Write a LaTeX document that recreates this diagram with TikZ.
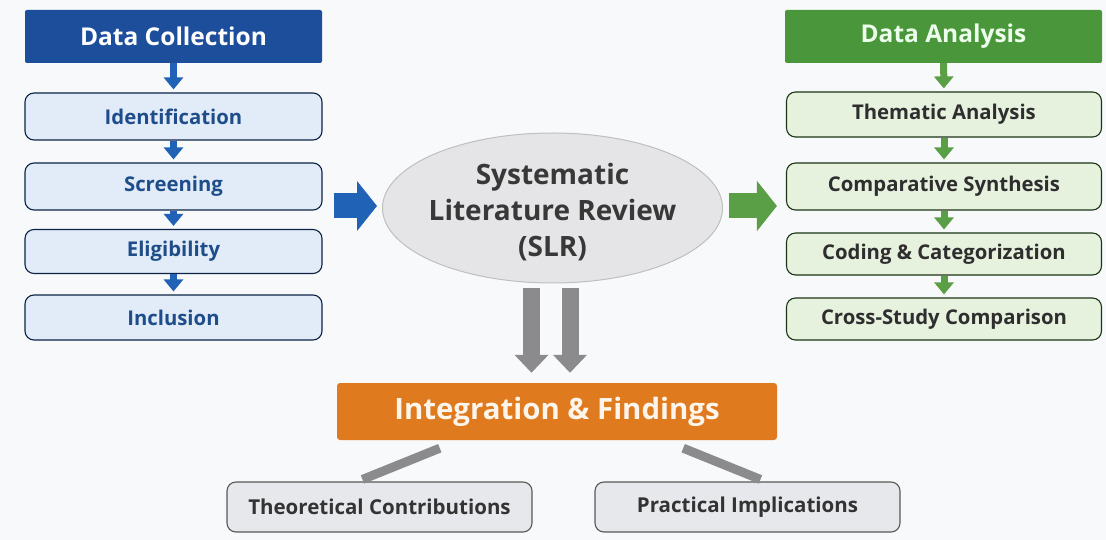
\documentclass[tikz,border=0pt]{standalone}
\usepackage{fontspec}
\setmainfont{Open Sans}
\usetikzlibrary{arrows.meta,shapes.geometric}
\definecolor{dcblue}{HTML}{1C4E9C}
\definecolor{dcarrow}{HTML}{1F62B6}
\definecolor{dcboxfill}{HTML}{E1ECF8}
\definecolor{dctext}{HTML}{1F4D8A}
\definecolor{dagreen}{HTML}{4A963A}
\definecolor{daarrow}{HTML}{5A9E45}
\definecolor{daboxfill}{HTML}{E6F1DE}
\definecolor{ifgorange}{HTML}{E07A1E}
\definecolor{slrgray}{HTML}{E5E5E7}
\definecolor{arrgray}{HTML}{8B8B8D}
\definecolor{outboxfill}{HTML}{E7E8EC}
\definecolor{bgcol}{HTML}{F8F9FB}
\begin{document}
\begin{tikzpicture}
[
x=1pt,y=-1pt,
hdr/.style={rectangle,rounded corners=2pt,minimum height=53pt,font=\fontsize{24.5}{28}\selectfont\bfseries},
stepbox/.style={rectangle,rounded corners=9pt,draw=#1,line width=1.1pt,font=\fontsize{20.3}{23}\selectfont\bfseries},
smallarr/.style={draw=#1,line width=7pt,-{Triangle[width=19pt,length=12pt]},shorten >=3pt},
bigarr/.style={draw=#1,line width=25pt,-{Triangle[width=49pt,length=20pt]}},
grayarr/.style={draw=arrgray,line width=17pt,-{Triangle[width=33pt,length=18pt]}},
outbox/.style={rectangle,rounded corners=9pt,draw=black!65,line width=1.1pt,fill=outboxfill,minimum width=305pt,minimum height=50pt,font=\fontsize{20.5}{23}\selectfont\bfseries,text=black!80}
]
\fill[bgcol] (0,0) rectangle (1106,540);
% left column
\node[hdr,fill=dcblue,text=white,minimum width=297pt] (dc) at (173.5,36.5) {Data Collection};
\node[stepbox=dcblue!45!black,fill=dcboxfill,text=dctext,minimum width=297pt,minimum height=47pt] (idf) at (173.5,116.5) {Identification};
\node[stepbox=dcblue!45!black,fill=dcboxfill,text=dctext,minimum width=297pt,minimum height=47pt] (scr) at (173.5,186.5) {Screening};
\node[stepbox=dcblue!45!black,fill=dcboxfill,text=dctext,minimum width=297pt,minimum height=44pt] (elg) at (173.5,251.5) {Eligibility};
\node[stepbox=dcblue!45!black,fill=dcboxfill,text=dctext,minimum width=297pt,minimum height=45pt] (inc) at (173.5,317.5) {Inclusion};
\draw[smallarr=dcarrow] (dc) -- (idf);
\draw[smallarr=dcarrow] (idf) -- (scr);
\draw[smallarr=dcarrow] (scr) -- (elg);
\draw[smallarr=dcarrow] (elg) -- (inc);
% centre
\node[ellipse,draw=black!25,line width=1pt,fill=slrgray,inner sep=0pt,minimum width=340pt,minimum height=150pt] (slr) at (552.5,208) {};
\node[align=center,text=black!78,font=\fontsize{28}{36}\selectfont\bfseries] (slrtext) at ([yshift=-4pt]slr.center) {Systematic\\Literature Review\\(SLR)};
% right column
\node[hdr,fill=dagreen,text=green!8,minimum width=317pt] (da) at (943.5,36.5) {Data Analysis};
\node[stepbox=dagreen!35!black,fill=daboxfill,text=black!82,minimum width=315pt,minimum height=45pt] (them) at (944,114.5) {Thematic Analysis};
\node[stepbox=dagreen!35!black,fill=daboxfill,text=black!82,minimum width=315pt,minimum height=47pt] (comp) at (944,186.5) {Comparative Synthesis};
\node[stepbox=dagreen!35!black,fill=daboxfill,text=black!82,minimum width=315pt,minimum height=42pt] (cod) at (944,254) {Coding \& Categorization};
\node[stepbox=dagreen!35!black,fill=daboxfill,text=black!82,minimum width=315pt,minimum height=42pt] (cross) at (944,319) {Cross-Study Comparison};
\draw[smallarr=daarrow] (da) -- (them);
\draw[smallarr=daarrow] (them) -- (comp);
\draw[smallarr=daarrow] (comp) -- (cod);
\draw[smallarr=daarrow] (cod) -- (cross);
\draw[bigarr=dcarrow] ([xshift=11pt,yshift=2pt]scr.east |- slr.west) -- ([xshift=-5pt,yshift=2pt]slr.west);
\draw[bigarr=daarrow] ([xshift=5.5pt,yshift=2pt]slr.east) -- ([xshift=-9pt,yshift=2pt]comp.west |- slr.east);
% findings
\node[rectangle,rounded corners=3pt,fill=ifgorange,minimum width=440pt,minimum height=57pt,text=orange!8,
  font=\fontsize{29.4}{32}\selectfont\bfseries] (ifg) at (557,411.5) {Integration \& Findings};
\draw[grayarr] ([xshift=-21pt,yshift=-4pt]slr.south) -- ([xshift=-21pt,yshift=10pt]slr.south |- ifg.north);
\draw[grayarr] ([xshift=17.5pt,yshift=-4pt]slr.south) -- ([xshift=17.5pt,yshift=10pt]slr.south |- ifg.north);
\node[outbox] (theo) at (379.5,507) {Theoretical Contributions};
\node[outbox] (prac) at (747.5,507) {Practical Implications};
\draw[arrgray,line width=9pt] ([xshift=103pt,yshift=-8pt]ifg.south west) -- ([xshift=136pt,yshift=2pt]theo.north west);
\draw[arrgray,line width=9pt] ([xshift=-94pt,yshift=-8pt]ifg.south east) -- ([xshift=166pt,yshift=2pt]prac.north west);
\end{tikzpicture}
\end{document}
